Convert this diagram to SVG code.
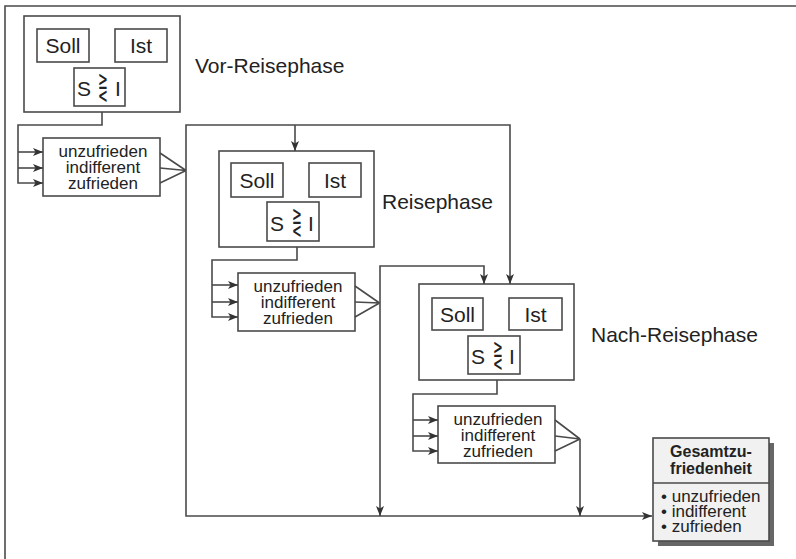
<svg xmlns="http://www.w3.org/2000/svg" width="796" height="559" viewBox="0 0 796 559">
<defs>
<marker id="ah" markerUnits="userSpaceOnUse" markerWidth="11" markerHeight="8" refX="10" refY="4" orient="auto">
<path d="M0,0 L10,4 L0,8 L2.5,4 z" fill="#333"/>
</marker>
<style>
.b{fill:#fff;stroke:#4a4a4a;stroke-width:1.6}
.l{fill:none;stroke:#4a4a4a;stroke-width:1.6}
.a{fill:none;stroke:#4a4a4a;stroke-width:1.6;marker-end:url(#ah)}
text{font-family:"Liberation Sans",Arial,sans-serif;fill:#222}
.big{font-size:21px}
.box{font-size:21px;text-anchor:middle}
.lst{font-size:17px;text-anchor:middle}
.sym{font-family:"DejaVu Sans",sans-serif;font-size:26px;text-anchor:middle}
</style>
</defs>
<rect width="796" height="559" fill="#fff"/>
<path class="l" d="M5,559 V6 H796"/>

<g id="vor">
<rect class="b" x="24" y="16" width="156" height="96"/>
<rect class="b" x="37" y="29" width="52" height="33"/>
<text class="box" x="63" y="53">Soll</text>
<rect class="b" x="115" y="29" width="52" height="33"/>
<text class="box" x="141" y="53">Ist</text>
<rect class="b" x="74" y="68" width="51" height="38"/>
<text class="box" x="84" y="96">S</text>
<text class="sym" transform="translate(103,96) scale(0.45,1)">⋛</text>
<text class="box" x="118" y="96">I</text>
<text class="big" x="195" y="73">Vor-Reisephase</text>
</g>
<g id="vor-list">
<rect class="b" x="43" y="138" width="117" height="58"/>
<text class="lst" x="103" y="157">unzufrieden</text>
<text class="lst" x="103" y="173">indifferent</text>
<text class="lst" x="103" y="189">zufrieden</text>
</g>

<g id="reise">
<rect class="b" x="219" y="151" width="155" height="96"/>
<rect class="b" x="231" y="163" width="52" height="34"/>
<text class="box" x="257" y="188">Soll</text>
<rect class="b" x="309" y="163" width="52" height="34"/>
<text class="box" x="335" y="188">Ist</text>
<rect class="b" x="267" y="202" width="52" height="39"/>
<text class="box" x="277" y="231">S</text>
<text class="sym" transform="translate(297,231) scale(0.45,1)">⋛</text>
<text class="box" x="311" y="231">I</text>
<text class="big" x="382" y="209">Reisephase</text>
</g>
<g id="reise-list">
<rect class="b" x="238" y="273" width="117" height="58"/>
<text class="lst" x="298" y="292">unzufrieden</text>
<text class="lst" x="298" y="308">indifferent</text>
<text class="lst" x="298" y="324">zufrieden</text>
</g>

<g id="nach">
<rect class="b" x="419" y="284" width="155" height="96"/>
<rect class="b" x="432" y="298" width="51" height="32"/>
<text class="box" x="457.5" y="322">Soll</text>
<rect class="b" x="509" y="298" width="53" height="32"/>
<text class="box" x="535.5" y="322">Ist</text>
<rect class="b" x="468" y="336" width="52" height="38"/>
<text class="box" x="478" y="364">S</text>
<text class="sym" transform="translate(498,364) scale(0.45,1)">⋛</text>
<text class="box" x="512" y="364">I</text>
<text class="big" x="591" y="342">Nach-Reisephase</text>
</g>
<g id="nach-list">
<rect class="b" x="438" y="406" width="117" height="57"/>
<text class="lst" x="498" y="425">unzufrieden</text>
<text class="lst" x="498" y="441">indifferent</text>
<text class="lst" x="498" y="457">zufrieden</text>
</g>

<g id="gesamt">
<rect x="658" y="443" width="116" height="103" fill="#666"/>
<rect x="653" y="438" width="116" height="103" fill="#f1f1f1" stroke="#4a4a4a" stroke-width="1.6"/>
<line class="l" x1="653" y1="483" x2="769" y2="483"/>
<text x="711" y="457" font-size="16" font-weight="bold" text-anchor="middle">Gesamtzu-</text>
<text x="711" y="474" font-size="16" font-weight="bold" text-anchor="middle">friedenheit</text>
<text x="661" y="502" font-size="17">• unzufrieden</text>
<text x="661" y="517" font-size="17">• indifferent</text>
<text x="661" y="532" font-size="17">• zufrieden</text>
</g>

<g id="connectors">
<path class="a" d="M102,112 V125 H18 V183 H43"/>
<path class="a" d="M18,152 H43"/>
<path class="a" d="M18,168 H43"/>
<path class="l" d="M160,153 L186,170.5 M160,168 L186,170.5 M160,183 L186,170.5"/>
<path class="a" d="M186,170 V125 H510 V284"/>
<path class="a" d="M186,170 V516 H652"/>
<path class="a" d="M295,125 V151"/>
<path class="a" d="M297,247 V260 H212 V317 H238"/>
<path class="a" d="M212,285 H238"/>
<path class="a" d="M212,302 H238"/>
<path class="l" d="M355,286 L379.5,303 M355,302 L379.5,303 M355,317 L379.5,303"/>
<path class="a" d="M380,303 V266 H484 V284"/>
<path class="a" d="M380,303 V516"/>
<path class="a" d="M497,380 V394 H413 V451 H438"/>
<path class="a" d="M413,420 H438"/>
<path class="a" d="M413,436 H438"/>
<path class="l" d="M555,420 L580,439 M555,436 L580,439 M555,451 L580,439"/>
<path class="a" d="M580,439 V516"/>
</g>
</svg>
